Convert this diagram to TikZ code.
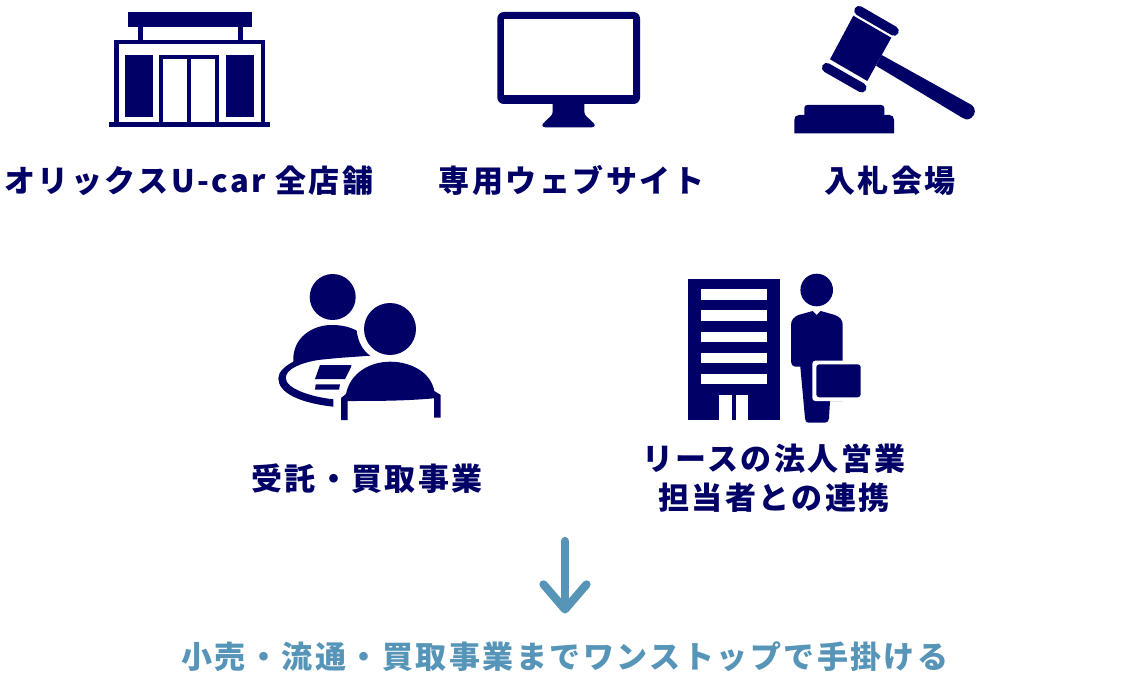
\documentclass[tikz,border=0pt]{standalone}
\usepackage{fontspec}
\setmainfont[LetterSpace=8]{Noto Sans CJK JP}
\usetikzlibrary{arrows.meta}
\definecolor{navy_ic}{HTML}{000066}
\definecolor{blue_ic}{HTML}{5795B8}
\tikzset{
  lbl_main/.style = {align=center, inner sep=0pt, text centered, text=navy_ic, font=\fontsize{31}{39}\selectfont\bfseries},
  lbl_sub/.style = {lbl_main, text=blue_ic},
  ic_navy/.style = {fill=navy_ic, draw=none},
  ic_hole/.style = {fill=white, draw=none},
  ic_cap/.style = {draw=navy_ic, line width=9.6pt, line cap=round},
  flow_arrow/.style = {draw=blue_ic, line width=8.2pt, line cap=round, -{Straight Barb[length=25pt, width=43pt, round]}},
}
\begin{document}
\begin{tikzpicture}[x=1pt, y=-1pt]
  \useasboundingbox (0,0) rectangle (1126,674);
  % shop
  \fill [ic_navy] (128.3,12.3) rectangle (251.7,27.3);
  \fill [ic_navy] (138.3,27) rectangle (143.3,41);
  \fill [ic_navy] (238.3,27) rectangle (242.7,41);
  \fill [ic_navy] (114,40) rectangle (265.3,124);
  \fill [ic_hole] (119,44.3) rectangle (260.7,122);
  \fill [ic_navy] (109,122) rectangle (270.3,126.7);
  \fill [ic_navy] (125,55) rectangle (153.3,116.7);
  \fill [ic_navy] (226,55) rectangle (254.3,116.7);
  \fill [ic_navy] (159,55) rectangle (219.3,122);
  \fill [ic_hole] (163.3,59.3) rectangle (187.3,122);
  \fill [ic_hole] (191.3,59.3) rectangle (215,122);
  % monitor
  \fill [ic_navy, rounded corners=6.5pt] (497.3,12) rectangle (640,104);
  \fill [ic_hole] (504.3,19.3) rectangle (633,94.7);
  \fill [ic_navy] (552.7,103) -- (552.7,112) .. controls (552.7,116) and (548,118) .. (543.5,123) .. controls (541,126) and (543,127.3) .. (545,127.3) -- (592,127.3) .. controls (594,127.3) and (596,126) .. (593.5,123) .. controls (589,118) and (584.3,116) .. (584.3,112) -- (584.3,103) -- cycle;
  % gavel
  \fill [ic_navy] (853.3,15.7) -- (891.3,37.7) -- (867.3,81) -- (830,59.3) -- cycle;
  \draw [ic_cap] (859,10.7) -- (894,31);
  \draw [ic_cap] (826.7,67.7) -- (861.7,87.7);
  \fill [ic_navy] (881.7,55) -- (971.7,105) .. controls (976,108) and (976,115) .. (971,118) .. controls (968,120) and (965,120) .. (962.7,118) -- (876,65.7) -- cycle;
  \fill [ic_navy] (804.3,118) -- (804.3,108) .. controls (804.3,106) and (805.5,105) .. (807.5,105) -- (881,105) .. controls (883,105) and (884.3,106) .. (884.3,108) -- (884.3,118) -- cycle;
  \fill [ic_navy] (794.3,133.3) -- (794.3,120) .. controls (794.3,117) and (796,115) .. (799,115) -- (889.5,115) .. controls (892.5,115) and (894,117) .. (894,120) -- (894,133.3) -- cycle;
  % two persons and table
  \fill [ic_navy] (332.7,297) circle (23pt);
  \fill [ic_navy] (390,329) circle (26pt);
  \fill [ic_navy] (293.3,361.7) .. controls (292,338) and (312,325) .. (331.7,325) .. controls (342,325) and (350,327) .. (356.7,330.7) .. controls (358,342) and (363,351) .. (370.3,355.7) .. controls (352,357) and (335,358) .. (318.3,360) .. controls (300,363) and (286,369) .. (285.7,378) .. controls (286,389) and (312,397) .. (333.3,399.3) -- (333.3,406.7) .. controls (300,403) and (278.3,393) .. (278.3,378.3) .. controls (278.3,372) and (285,366) .. (293.3,361.7) -- cycle;
  \fill [ic_navy] (320,365) -- (351,365) .. controls (351.5,365) and (351.5,366) .. (351,367) -- (345,379) -- (315,379) -- cycle;
  \fill [ic_navy] (315.7,384.3) -- (340,384.3) -- (339,389.7) -- (315,389.7) -- cycle;
  \fill [ic_navy] (341,420) -- (341,398) -- (346,394) .. controls (350,373) and (370,361.7) .. (390,361.7) .. controls (412,361.7) and (431,373) .. (434.3,391) -- (440.7,395) -- (440.7,417.7) -- (434,417.7) -- (434,398.3) .. controls (405,401) and (375,401) .. (347.7,401) -- (347.7,420) -- cycle;
  % building
  \fill [ic_navy] (688,279) rectangle (780,420);
  \foreach \winy in {289.3,310.3,331.7,352.7,373.7}
    \fill [ic_hole] (701,\winy) rectangle (766.7,\winy+10.3);
  \fill [ic_hole] (719.3,395) rectangle (731.7,420);
  \fill [ic_hole] (736.3,395) rectangle (748.3,420);
  % person with case
  \fill [ic_navy] (816.7,290) circle (16.3pt);
  \fill [ic_navy] (812.7,311) -- (816.7,315) -- (820.7,311) -- (835,315) .. controls (840,317) and (842.7,320) .. (842.7,325) -- (842.7,361.7) -- (842.7,401) -- (830,401) -- (829,418.3) .. controls (829,421) and (827,422.7) .. (825,422.7) -- (808.3,422.7) .. controls (806.5,422.7) and (805,421) .. (805,418.3) -- (800.3,366.7) -- (795,366.7) .. controls (792.5,366.7) and (791,364) .. (791,361.7) -- (791,325) .. controls (791,320) and (794,317) .. (798.3,315) -- cycle;
  \fill [ic_hole, rounded corners=3pt] (812.3,360.7) rectangle (866,401);
  \fill [ic_navy, rounded corners=3pt] (816.3,364.3) rectangle (860.7,397.3);
  % labels
  \node [lbl_main] (shop) at (189,181) {オリックスU-car 全店舗};
  \node [lbl_main] (website) at (571.5,181) {専用ウェブサイト};
  \node [lbl_main] (auction) at (890,181) {入札会場};
  \node [lbl_main] (consign) at (367,479) {受託・買取事業};
  \node [lbl_main] (lease) at (774,478.5) {リースの法人営業\\担当者との連携};
  \node [lbl_sub] (oneStop) at (565,657) {小売・流通・買取事業までワンストップで手掛ける};
  \coordinate (flowTop) at (565,541);
  \coordinate (flowEnd) at (565,613.5);
  \draw [flow_arrow] (flowTop) -- (flowEnd);
\end{tikzpicture}
\end{document}
